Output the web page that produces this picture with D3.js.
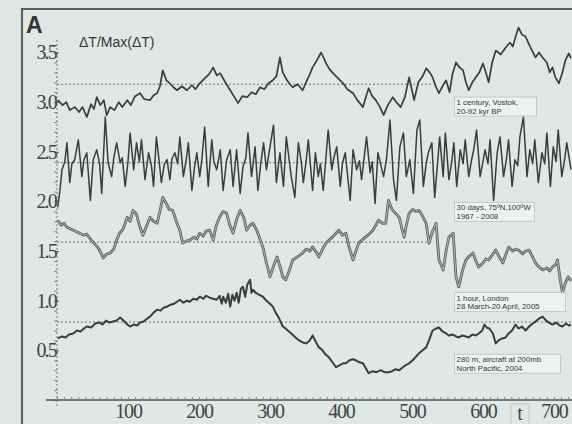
<!DOCTYPE html>
<html>
<head>
<meta charset="utf-8">
<script src="https://cdn.jsdelivr.net/npm/d3@7"></script>
<style>
  html, body { margin: 0; padding: 0; background: #dfe8e5; }
  svg { display: block; }
  .tick text { font-family: "Liberation Serif", "DejaVu Serif", serif; fill: #3c4644; }
</style>
</head>
<body>
<svg id="chart" width="572" height="424"></svg>
<script>
// data: [t, ΔT/Max(ΔT)]
const vostok = [
  [1,3.02],[8,2.97],[13,3.0],[18,2.92],[25,2.95],[31,2.9],[36,2.95],[42,2.85],[48,2.98],[52,2.93],[56,3.05],[61,2.97],[66,3.02],[70,2.87],[75,2.95],[81,2.92],[87,3.0],[92,2.95],[99,3.02],[104,2.97],[110,3.06],[117,3.09],[123,3.03],[131,3.02],[136,3.07],[141,3.09],[145,3.16],[149,3.32],[154,3.22],[159,3.19],[164,3.15],[169,3.12],[176,3.16],[183,3.12],[190,3.17],[195,3.13],[201,3.19],[208,3.24],[214,3.28],[220,3.35],[225,3.27],[230,3.29],[237,3.2],[244,3.12],[250,3.05],[255,2.99],[261,3.06],[268,3.05],[274,3.1],[280,3.08],[286,3.15],[292,3.13],[298,3.19],[304,3.22],[309,3.26],[314,3.45],[318,3.3],[324,3.22],[328,3.18],[332,3.15],[339,3.18],[346,3.12],[352,3.22],[356,3.28],[360,3.35],[366,3.42],[372,3.5],[376,3.44],[379,3.39],[384,3.33],[389,3.29],[396,3.24],[403,3.19],[409,3.13],[417,3.09],[423,3.02],[431,2.95],[435,3.05],[439,3.14],[444,3.06],[449,3.02],[455,2.95],[460,2.87],[466,2.97],[473,3.05],[478,3.0],[484,2.95],[490,3.05],[496,3.25],[500,3.12],[503,3.02],[509,3.2],[515,3.26],[520,3.34],[525,3.3],[529,3.25],[534,3.15],[538,3.09],[543,3.16],[548,3.22],[553,3.1],[557,3.28],[562,3.4],[567,3.35],[572,3.32],[576,3.2],[580,3.12],[585,3.2],[590,3.25],[595,3.3],[600,3.39],[604,3.3],[608,3.2],[613,3.4],[618,3.52],[625,3.48],[632,3.55],[638,3.6],[642,3.56],[646,3.66],[650,3.75],[655,3.68],[660,3.66],[667,3.55],[674,3.45],[679,3.5],[684,3.45],[690,3.4],[694,3.3],[698,3.35],[702,3.25],[707,3.19],[712,3.3],[716,3.42],[721,3.49],[724,3.44]
];
const arctic = [
  [1,1.94],[4,2.1],[7,2.32],[11,2.4],[14,2.59],[18,2.19],[21,2.38],[25,2.42],[30,2.62],[35,2.25],[38,2.42],[42,2.49],[47,2.01],[51,2.42],[56,2.52],[60,2.38],[63,2.08],[68,2.85],[72,2.39],[77,2.25],[80,2.44],[84,2.59],[89,2.39],[92,2.44],[96,2.15],[100,2.4],[103,2.69],[108,2.32],[112,2.59],[116,2.4],[119,2.62],[124,2.22],[129,2.49],[133,2.36],[136,2.15],[140,2.65],[144,2.4],[147,2.19],[151,2.37],[155,2.42],[159,2.22],[162,2.43],[166,2.49],[170,2.38],[173,2.65],[178,2.25],
  [182,2.42],[185,2.59],[190,2.11],[194,2.36],[197,2.49],[201,2.25],[204,2.42],[208,2.75],[213,2.15],[218,2.62],[221,2.4],[225,2.32],[230,2.52],[234,2.11],[239,2.42],[244,2.52],[248,2.15],[253,2.52],[258,2.08],[262,2.35],[266,2.44],[269,2.69],[274,2.25],[279,2.55],[283,2.11],[287,2.38],[291,2.59],[295,2.32],[300,2.55],[305,2.77],[309,2.19],[314,2.49],[319,2.15],[323,2.65],[327,2.42],[330,2.25],[335,2.04],[340,2.59],[344,2.4],[347,2.19],[351,2.41],[354,2.62],[360,2.11],
  [364,2.49],[368,2.25],[371,2.38],[375,2.11],[382,2.72],[387,2.32],[390,2.44],[394,2.55],[399,2.15],[402,2.38],[406,2.49],[413,2.01],[417,2.52],[422,2.32],[426,2.41],[429,2.22],[436,2.65],[441,2.29],[444,2.4],[448,1.98],[452,2.49],[456,2.37],[460,2.25],[464,2.42],[469,2.82],[474,2.22],[478,2.01],[483,2.55],[488,2.69],[492,2.25],[497,2.42],[502,2.08],[507,2.72],[511,2.82],[516,2.15],[520,2.38],[523,2.49],[528,2.59],[532,2.04],[536,2.38],[539,2.65],[544,2.25],
  [547,2.69],[552,2.22],[556,2.4],[559,2.59],[563,2.15],[568,2.52],[572,2.38],[575,2.62],[580,2.25],[584,2.42],[587,2.52],[591,2.72],[596,2.25],[600,2.4],[603,2.52],[607,2.38],[610,2.62],[615,2.01],[620,2.49],[624,2.65],[629,2.25],[633,2.42],[636,2.62],[641,2.15],[645,2.42],[649,2.36],[652,2.65],[657,2.85],[662,2.25],[666,2.52],[670,2.38],[673,2.62],[678,2.19],[683,2.49],[687,2.38],[690,2.69],[695,2.15],[699,2.55],[703,2.4],[706,2.72],[711,2.25],[715,2.42],[718,2.59],[724,2.32]
];
const london = [
  [1,1.81],[6,1.76],[10,1.78],[14,1.74],[20,1.72],[26,1.7],[32,1.68],[38,1.66],[42,1.67],[46,1.63],[52,1.58],[56,1.55],[60,1.51],[65,1.43],[70,1.47],[75,1.48],[80,1.52],[84,1.61],[88,1.68],[93,1.72],[99,1.84],[103,1.8],[107,1.91],[112,1.87],[116,1.76],[121,1.66],[126,1.75],[131,1.84],[136,1.8],[141,1.78],[145,1.9],[149,2.04],[154,1.98],[158,1.92],[163,1.91],[168,1.8],[173,1.71],[177,1.58],[182,1.6],[187,1.61],[193,1.64],[197,1.62],[201,1.68],[206,1.65],[210,1.7],[215,1.71],[220,1.61],[224,1.75],[229,1.84],[234,1.9],[239,1.88],[243,1.77],[248,1.68],[253,1.82],[258,1.91],[263,1.84],[267,1.71],[272,1.76],[276,1.78],[282,1.7],[286,1.62],[290,1.54],[295,1.38],[300,1.24],[305,1.35],[310,1.44],[314,1.35],[318,1.24],[322,1.21],[327,1.3],[332,1.41],[338,1.44],[342,1.46],[346,1.48],[351,1.52],[356,1.5],[360,1.54],[365,1.49],[369,1.44],[374,1.52],[379,1.58],[383,1.61],[388,1.64],[393,1.68],[397,1.71],[402,1.66],[407,1.68],[411,1.55],[417,1.41],[421,1.5],[425,1.58],[431,1.62],[438,1.66],[445,1.71],[449,1.76],[453,1.81],[458,1.78],[463,1.78],[467,2.01],[470,1.95],[473,1.91],[477,1.88],[482,1.84],[486,1.72],[489,1.64],[492,1.76],[496,1.88],[501,1.92],[505,1.9],[510,1.91],[515,1.85],[520,1.78],[524,1.58],[529,1.7],[534,1.78],[538,1.41],[544,1.31],[548,1.5],[552,1.64],[558,1.68],[562,1.24],[566,1.14],[571,1.3],[576,1.41],[581,1.45],[586,1.48],[590,1.4],[594,1.34],[600,1.38],[604,1.42],[608,1.41],[613,1.46],[618,1.51],[623,1.44],[628,1.38],[632,1.46],[636,1.54],[642,1.5],[646,1.52],[650,1.51],[656,1.47],[660,1.5],[665,1.51],[670,1.44],[674,1.38],[679,1.34],[684,1.31],[690,1.33],[694,1.3],[698,1.34],[702,1.36],[705,1.41],[709,1.2],[712,1.08],[716,1.18],[720,1.24],[724,1.2]
];
const aircraft = [
  [1,0.62],[7,0.64],[12,0.63],[17,0.66],[23,0.67],[28,0.7],[33,0.69],[38,0.72],[42,0.74],[48,0.73],[54,0.77],[60,0.78],[64,0.76],[69,0.8],[74,0.78],[79,0.79],[84,0.8],[89,0.83],[95,0.79],[99,0.76],[103,0.74],[108,0.76],[113,0.75],[117,0.78],[122,0.79],[127,0.82],[131,0.84],[136,0.88],[141,0.91],[146,0.9],[150,0.93],[155,0.94],[160,0.96],[165,0.97],[169,0.99],[173,1.01],[178,0.98],[183,1.0],[187,0.99],[192,1.02],[197,1.01],[201,1.04],[206,1.02],[210,1.05],[215,1.03],[220,1.02],[225,1.01],[229,1.05],[232,0.97],[234,1.04],[238,0.98],[241,1.07],[244,0.94],[247,1.06],[250,1.0],[253,1.08],[256,0.98],[259,1.12],[262,1.14],[265,1.04],[268,1.16],[272,1.21],[274,1.08],[276,1.11],[280,1.08],[285,1.06],[290,1.04],[295,1.0],[300,0.97],[304,0.94],[308,0.88],[313,0.82],[318,0.74],[322,0.72],[325,0.7],[330,0.67],[336,0.63],[341,0.6],[346,0.58],[351,0.57],[356,0.6],[360,0.65],[365,0.58],[369,0.53],[374,0.5],[378,0.46],[383,0.43],[388,0.38],[393,0.33],[398,0.35],[403,0.37],[407,0.37],[412,0.4],[417,0.41],[421,0.4],[426,0.38],[431,0.37],[435,0.32],[439,0.27],[445,0.29],[450,0.28],[456,0.3],[461,0.28],[467,0.28],[472,0.29],[477,0.31],[482,0.3],[487,0.33],[491,0.35],[496,0.37],[501,0.4],[506,0.44],[510,0.47],[515,0.5],[520,0.53],[524,0.6],[529,0.7],[534,0.72],[538,0.73],[543,0.69],[548,0.67],[552,0.65],[557,0.66],[562,0.64],[566,0.63],[571,0.65],[576,0.64],[580,0.63],[585,0.66],[590,0.65],[594,0.67],[599,0.7],[602,0.76],[605,0.73],[609,0.72],[614,0.67],[618,0.57],[622,0.6],[627,0.62],[632,0.63],[636,0.67],[641,0.7],[646,0.76],[650,0.72],[655,0.74],[660,0.7],[665,0.74],[670,0.77],[674,0.79],[679,0.82],[684,0.84],[689,0.8],[693,0.78],[698,0.76],[703,0.78],[708,0.75],[712,0.74],[717,0.77],[721,0.75],[724,0.76]
];
const series = [vostok, arctic, london, aircraft];
const refLevels = [3.18, 2.39, 1.59, 0.785];
const refEnds = [530, 530, 530, 724];
const notes = [
  ["1 century, Vostok,", "20-92 kyr BP"],
  ["30 days, 75ºN,100ºW", "1967 - 2008"],
  ["1 hour, London", "28 March-20 April, 2005"],
  ["280 m, aircraft at 200mb", "North Pacific, 2004"]
];
const noteLevels = [2.87, 1.81, 0.9, 0.28];
const xTicks = [100, 200, 300, 400, 500, 600, 700];
const yTicks = [0.5, 1.0, 1.5, 2.0, 2.5, 3.0, 3.5];

const svg = d3.select("#chart");
const ink = "#353f3d";

const x = d3.scaleLinear().domain([0, 724]).range([57, 571]);
const y = d3.scaleLinear().domain([0, 3.5]).range([400, 52.5]);

// soft edge like the scanned original
svg.append("defs").append("filter")
		.attr("id", "soft")
	.append("feGaussianBlur")
		.attr("stdDeviation", 0.45);

// outer frame
svg.append("path")
	.attr("d", "M22,424V9H572")
	.attr("fill", "none")
	.attr("stroke", "#59625f")
	.attr("stroke-width", 2.2);

// reference levels
svg.selectAll(".ref")
	.data(refLevels)
	.enter().append("line")
		.attr("class", "ref")
		.attr("x1", x(0))
		.attr("x2", (d, i) => x(refEnds[i]))
		.attr("y1", d => y(d))
		.attr("y2", d => y(d))
		.attr("stroke", "#6d7774")
		.attr("stroke-width", 1)
		.attr("stroke-dasharray", "2,2");

// y axis (dotted)
svg.append("line")
	.attr("x1", x(0)).attr("x2", x(0))
	.attr("y1", 40).attr("y2", 408)
	.attr("stroke", "#6d7774")
	.attr("stroke-dasharray", "2,2");

svg.append("g")
		.attr("transform", "translate(" + x(0) + ",0)")
		.call(d3.axisLeft(y).ticks(35).tickSize(3).tickFormat(""))
	.call(g => g.select(".domain").remove())
	.call(g => g.selectAll("line").attr("stroke", "#7b8582"));

svg.append("g")
		.attr("transform", "translate(" + (x(0) + 2) + ",0)")
		.call(d3.axisLeft(y).tickValues(yTicks).tickSize(4).tickFormat(d3.format(".1f")))
	.call(g => g.select(".domain").remove())
	.call(g => g.selectAll("line").attr("stroke", "#5d6764"))
	.call(g => g.selectAll("text")
		.attr("font-size", 20)
		.attr("letter-spacing", -1.8)
		.attr("x", -3));

// x axis
svg.append("line")
	.attr("x1", 46).attr("x2", 572)
	.attr("y1", y(0)).attr("y2", y(0))
	.attr("stroke", "#4c5553")
	.attr("stroke-width", 1.5);

svg.append("g")
		.attr("transform", "translate(0," + y(0) + ")")
		.call(d3.axisTop(x).ticks(72).tickSize(3).tickFormat(""))
	.call(g => g.select(".domain").remove())
	.call(g => g.selectAll("line").attr("stroke", "#7b8582"));

svg.append("g")
		.attr("transform", "translate(0," + y(0) + ")")
		.call(d3.axisBottom(x).tickValues(xTicks).tickSize(0).tickPadding(4))
	.call(g => g.select(".domain").remove())
	.call(g => g.selectAll("text")
		.attr("font-size", 20)
		.attr("letter-spacing", -1.2));

// series
const line = d3.line().x(d => x(d[0])).y(d => y(d[1]));
const lines = svg.append("g").attr("filter", "url(#soft)");

lines.selectAll(".series")
	.data(series)
	.enter().append("path")
		.attr("class", "series")
		.attr("d", line)
		.attr("fill", "none")
		.attr("stroke", (d, i) => i === 2 ? "#5a6461" : ink)
		.attr("stroke-width", (d, i) => [1.7, 1.5, 2.8, 2][i])
		.attr("stroke-linejoin", "round");

// London trace is drawn hollow in the original
lines.append("path")
	.attr("d", line(london))
	.attr("fill", "none")
	.attr("stroke", "#b7c1be")
	.attr("stroke-width", 0.9)
	.attr("stroke-linejoin", "round");

// notes
const note = svg.selectAll(".note")
	.data(notes)
	.enter().append("g")
		.attr("class", "note")
		.attr("transform", (d, i) => "translate(" + x(560) + "," + (y(noteLevels[i]) - 18) + ")");

note.append("rect")
	.attr("width", (d, i) => [82, 80, 111, 106][i])
	.attr("height", 19)
	.attr("fill", "#edf2f0")
	.attr("stroke", "#b9c2bf")
	.attr("stroke-width", 0.8);

note.selectAll("text")
	.data(d => d)
	.enter().append("text")
		.attr("x", 2)
		.attr("y", (d, i) => 8 + i * 8.5)
		.attr("font-family", "Liberation Sans, Arial, sans-serif")
		.attr("font-size", 7.8)
		.attr("fill", "#2f3836")
		.text(d => d);

// labels
svg.append("text")
	.attr("x", 26).attr("y", 33)
	.attr("font-family", "Liberation Sans, Arial, sans-serif")
	.attr("font-weight", "bold")
	.attr("font-size", 23)
	.attr("fill", "#2c3533")
	.text("A");

svg.append("text")
	.attr("x", 79).attr("y", 47)
	.attr("font-family", "Liberation Sans, Arial, sans-serif")
	.attr("font-size", 14)
	.attr("fill", "#2f3836")
	.text("ΔT/Max(ΔT)");

svg.append("rect")
	.attr("x", 511).attr("y", 404)
	.attr("width", 18).attr("height", 22)
	.attr("fill", "none")
	.attr("stroke", "#c3cbc8");

svg.append("text")
	.attr("x", 520).attr("y", 420)
	.attr("text-anchor", "middle")
	.attr("font-family", "Liberation Serif, serif")
	.attr("font-size", 20)
	.attr("fill", "#3c4644")
	.text("t");
</script>
</body>
</html>
